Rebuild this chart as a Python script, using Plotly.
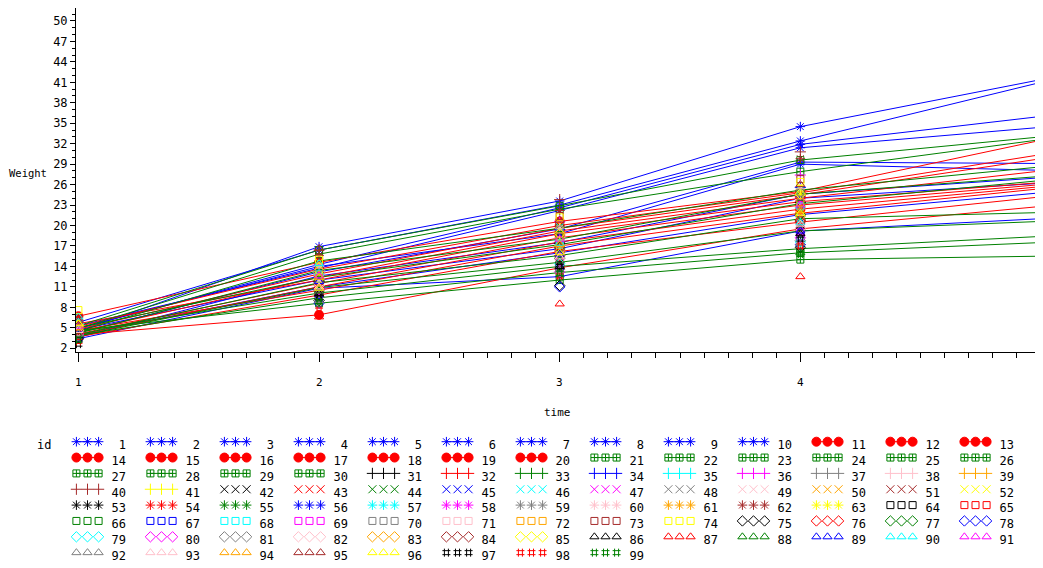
import plotly.graph_objects as go

# ---------------- data ----------------
ids = list(range(1, 100))
times = [1, 2, 3, 4, 5]

w_t1 = [4.5, 5.8, 4.9, 5.3, 4.3, 5.0, 3.6, 4.7, 4.0, 3.4,
        6.7, 5.2, 4.8, 4.4, 5.6, 4.1, 3.9, 4.6, 3.7, 4.0,
        5.3, 4.9, 4.5, 4.2, 5.0, 4.0, 3.8, 4.4, 3.9, 4.6,
        4.2, 4.6, 3.8, 5.1, 4.4, 5.6, 4.0, 4.8, 5.2, 6.0,
        4.5, 3.6, 4.3, 4.9, 3.9, 5.4, 4.1, 3.7, 4.7, 5.0,
        4.4, 5.8, 3.5, 4.6, 4.0, 5.2, 4.3, 4.9, 3.8, 5.5,
        4.2, 6.2, 4.8, 3.9, 4.5, 5.1, 3.6, 4.7, 4.0, 5.3,
        4.4, 5.0, 6.4, 7.6, 3.4, 4.2, 4.8, 3.7, 5.6, 4.1,
        3.8, 4.6, 5.0, 4.3, 5.4, 3.9, 4.4, 4.0, 4.7, 6.6,
        5.2, 4.1, 4.6, 5.0, 6.0, 5.6, 2.6, 3.0, 3.2]
w_t2 = [16.9, 16.4, 14.3, 13.8, 13.2, 14.0, 12.6, 12.0, 11.0, 10.8,
        14.6, 13.6, 12.9, 12.4, 12.0, 11.5, 11.0, 10.5, 9.8, 6.9,
        16.4, 15.8, 14.8, 13.4, 12.4, 11.6, 10.9, 10.1, 9.4, 8.6,
        11.8, 12.6, 10.4, 13.4, 12.2, 14.2, 11.2, 12.8, 13.0, 16.4,
        12.0, 9.8, 11.6, 13.2, 10.6, 13.8, 11.4, 10.2, 12.4, 13.6,
        11.0, 14.6, 9.6, 12.2, 10.8, 13.2, 11.6, 12.8, 10.0, 14.0,
        11.2, 15.6, 12.6, 10.4, 11.8, 13.0, 9.2, 12.4, 10.2, 13.6,
        11.4, 12.8, 15.2, 15.0, 9.0, 10.8, 12.0, 8.6, 12.8, 10.6,
        9.6, 11.2, 12.2, 11.6, 13.4, 10.0, 6.6, 10.4, 11.8, 14.4,
        12.6, 9.0, 11.0, 12.4, 16.6, 10.8, 9.4, 7.6, 8.8]
w_t3 = [23.6, 23.0, 22.6, 22.2, 19.5, 18.8, 17.5, 16.6, 16.0, 12.5,
        20.6, 20.0, 19.6, 19.2, 18.8, 18.2, 17.6, 17.0, 16.2, 13.8,
        22.9, 22.4, 19.6, 18.0, 17.2, 15.6, 14.6, 14.0, 13.1, 12.0,
        17.4, 18.6, 15.2, 19.4, 17.8, 20.6, 16.4, 18.2, 19.0, 23.8,
        17.0, 14.4, 16.8, 18.4, 15.6, 19.8, 16.2, 14.8, 17.6, 19.2,
        15.8, 20.2, 14.2, 17.2, 15.4, 18.8, 16.6, 18.0, 15.0, 19.6,
        16.0, 22.2, 17.8, 15.2, 17.0, 18.6, 13.8, 17.4, 14.6, 19.4,
        16.4, 18.4, 21.4, 21.2, 11.2, 15.6, 16.8, 11.0, 14.4, 13.2,
        13.6, 15.0, 16.2, 16.6, 18.8, 14.0, 8.5, 14.8, 15.8, 17.4,
        18.0, 13.4, 15.4, 17.2, 20.8, 16.0, 14.0, 12.6, 13.0]
w_t4 = [34.5, 32.4, 31.9, 31.4, 29.3, 29.0, 24.6, 24.0, 21.6, 19.2,
        25.0, 24.8, 24.5, 24.0, 23.5, 23.0, 22.4, 21.8, 20.5, 19.5,
        29.6, 27.9, 25.2, 24.6, 23.2, 21.0, 19.2, 16.6, 16.0, 15.0,
        23.4, 24.2, 20.8, 25.6, 22.6, 27.4, 21.4, 23.8, 24.4, 30.8,
        22.8, 19.6, 21.6, 24.0, 20.4, 25.2, 22.0, 19.8, 23.0, 24.8,
        20.2, 25.8, 18.6, 22.2, 20.6, 24.2, 21.2, 23.6, 19.4, 25.4,
        21.8, 29.8, 24.6, 20.0, 22.4, 23.2, 18.4, 22.8, 19.0, 24.8,
        21.0, 23.4, 26.8, 26.4, 16.8, 20.8, 21.6, 17.2, 17.6, 18.2,
        17.8, 19.6, 21.4, 20.6, 24.6, 18.8, 12.5, 16.0, 19.2, 20.4,
        23.0, 17.4, 20.2, 22.2, 26.0, 21.8, 18.0, 17.0, 15.8]
w_t5 = [41.4, 41.0, 36.0, 34.4, 29.1, 28.1, 27.0, 26.2, 24.8, 21.0,
        32.5, 30.4, 29.8, 28.0, 26.3, 26.0, 25.7, 25.4, 24.2, 22.8,
        33.0, 32.6, 28.6, 27.2, 26.6, 21.9, 20.6, 18.4, 17.5, 15.5,
        27.5, 28.8, 24.6, 29.6, 26.2, 33.8, 25.4, 29.0, 30.2, 35.6,
        27.8, 23.0, 26.4, 28.2, 24.8, 30.0, 26.8, 23.6, 27.4, 29.4,
        19.0, 30.6, 22.4, 26.0, 24.4, 28.6, 25.0, 27.2, 23.2, 30.8,
        25.6, 36.0, 29.2, 23.8, 26.8, 27.6, 22.6, 26.4, 22.8, 29.8,
        24.6, 28.0, 31.0, 33.2, 20.4, 24.2, 25.2, 21.4, 20.0, 21.6,
        20.8, 23.4, 25.8, 24.0, 28.4, 22.2, 17.0, 17.8, 21.2, 23.6,
        27.0, 21.8, 24.4, 26.6, 30.4, 25.4, 22.0, 19.8, 18.6]

x_tick_vals = [1, 2, 3, 4, 5]
y_tick_vals = [2, 5, 8, 11, 14, 17, 20, 23, 26, 29, 32, 35, 38, 41, 44, 47, 50]

# ---------------- styles ----------------
line_colors = ["#0000FF", "#FF0000", "#008000"]
line_symbols = ["asterisk-open", "circle", "square-cross-open"]
point_colors = ["#000000", "#FF0000", "#008000", "#0000FF", "#00FFFF", "#FF00FF",
                "#808080", "#FFC0CB", "#FFA500", "#A52A2A", "#FFFF00"]
point_symbols = ["cross-thin-open", "x-thin-open", "asterisk-open", "square-open",
                 "diamond-open", "triangle-up-open", "hash-open"]

MONO = "DejaVu Sans Mono"
OFF = 8            # page body offset of the figure
W, H = 1043 - OFF, 568 - OFF


def style(i):
    if i <= 30:
        g = (i - 1) // 10
        return line_colors[g], line_symbols[g], True
    k = i - 31
    return point_colors[k % 11], point_symbols[k // 11], False


def msize(sym):
    if sym == "circle":
        return 9
    if sym in ("square-open", "square-cross-open"):
        return 7
    return 8


fig = go.Figure()

series = [w_t1, w_t2, w_t3, w_t4, w_t5]
for n, i in enumerate(ids):
    color, sym, joined = style(i)
    yv = [s[n] for s in series]
    fig.add_trace(go.Scatter(
        x=times, y=yv,
        mode="lines+markers" if joined else "markers",
        line=dict(color=color, width=1),
        marker=dict(symbol=sym, size=msize(sym), color=color,
                    line=dict(color=color, width=1)),
        xaxis="x", yaxis="y", showlegend=False, hoverinfo="skip"))

# ---------------- legend (grid of 13 columns) ----------------
NCOL = 13
offs = [-0.15, 0.0, 0.15]
for i in ids:
    color, sym, joined = style(i)
    col = (i - 1) % NCOL
    row = (i - 1) // NCOL
    fig.add_trace(go.Scatter(
        x=[col + o for o in offs], y=[row] * 3,
        mode="lines+markers" if joined else "markers",
        line=dict(color=color, width=1),
        marker=dict(symbol=sym, size=msize(sym), color=color,
                    line=dict(color=color, width=1)),
        xaxis="x2", yaxis="y2", showlegend=False, hoverinfo="skip",
        cliponaxis=False))

fig.add_trace(go.Scatter(
    x=[(i - 1) % NCOL + 0.52 for i in ids],
    y=[(i - 1) // NCOL + 0.27 for i in ids],
    text=[str(i) for i in ids],
    mode="text", textposition="middle left",
    textfont=dict(family=MONO, size=12, color="black"),
    xaxis="x2", yaxis="y2", showlegend=False, hoverinfo="skip",
    cliponaxis=False))

# ---------------- layout ----------------
px_x = lambda p: (p - OFF) / W
px_y = lambda p: 1 - (p - OFF) / H

col0 = 87.5 - OFF
row0 = 441.7 - OFF
leg_top = 425 - OFF

annotations = [
    dict(text="Weight", x=px_x(27.5), y=px_y(173), xref="paper", yref="paper",
         xanchor="center", yanchor="middle", showarrow=False,
         font=dict(family=MONO, size=10.5, color="black")),
    dict(text="time", x=px_x(557), y=px_y(412), xref="paper", yref="paper",
         xanchor="center", yanchor="middle", showarrow=False,
         font=dict(family=MONO, size=11, color="black")),
    dict(text="id", x=px_x(44), y=px_y(445), xref="paper", yref="paper",
         xanchor="center", yanchor="middle", showarrow=False,
         font=dict(family=MONO, size=12, color="black")),
]
x_lo, x_hi = 0.99, 5.0
for v in x_tick_vals:
    annotations.append(dict(
        text=str(v),
        x=px_x(76) + (v - x_lo) / (x_hi - x_lo) * (px_x(1041) - px_x(76)),
        y=px_y(382), xref="paper", yref="paper",
        xanchor="center", yanchor="middle", showarrow=False,
        font=dict(family=MONO, size=11, color="black")))

fig.update_layout(
    template="none",
    width=W, height=H,
    margin=dict(l=0, r=0, t=0, b=0, autoexpand=False),
    paper_bgcolor="white", plot_bgcolor="white",
    font=dict(family=MONO, size=12, color="black"),
    showlegend=False,
    xaxis=dict(
        domain=[px_x(76), px_x(1041)], range=[x_lo, x_hi],
        tickvals=x_tick_vals, showticklabels=False,
        ticks="outside", ticklen=9, tickcolor="black", tickwidth=1,
        minor=dict(dtick=0.1, tick0=1, ticks="outside", ticklen=5,
                   tickcolor="black", tickwidth=1, showgrid=False),
        showline=True, linecolor="black", linewidth=1, mirror=True,
        showgrid=False, zeroline=False, automargin=False,
        anchor="y"),
    yaxis=dict(
        domain=[px_y(352), px_y(8)], range=[1.45, 51.9],
        tickvals=y_tick_vals, ticktext=[str(v) for v in y_tick_vals],
        ticks="outside", ticklen=5, tickcolor="black", tickwidth=1,
        minor=dict(dtick=1, tick0=2, ticks="outside", ticklen=3,
                   tickcolor="black", tickwidth=1, showgrid=False),
        showline=True, linecolor="black", linewidth=1, mirror=True,
        showgrid=False, zeroline=False, automargin=False,
        tickfont=dict(family=MONO, size=12, color="black"),
        anchor="x"),
    xaxis2=dict(domain=[0, 1], range=[-col0 / 74, (W - col0) / 74],
                visible=False, anchor="y2", fixedrange=True, automargin=False),
    yaxis2=dict(domain=[0, px_y(425)],
                range=[(H - row0) / 15.85, (leg_top - row0) / 15.85],
                visible=False, anchor="x2", fixedrange=True, automargin=False),
    annotations=annotations,
)

fig.write_html("out.html")
